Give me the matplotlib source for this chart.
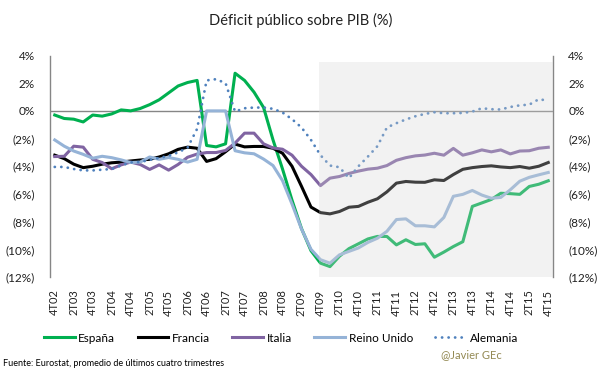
import numpy as np
import matplotlib
matplotlib.use('Agg')
import matplotlib.pyplot as plt
from matplotlib.ticker import FixedLocator, FuncFormatter

plt.rcParams['font.family'] = ['Lato', 'DejaVu Sans']

# Trimestres 4T02 .. 4T15 (53 puntos)
trimestres = []
for anio in range(2, 16):
    for q in range(1, 5):
        if anio == 2 and q < 4:
            continue
        trimestres.append('%dT%02d' % (q, anio))
etiquetas = trimestres[::2]

espana = [-0.3, -0.55, -0.6, -0.8, -0.3, -0.38, -0.22, 0.07, 0.0, 0.17, 0.45, 0.8,
          1.3, 1.8, 2.05, 2.2, -2.5, -2.6, -2.38, 2.72, 2.2, 1.35, 0.25, -2.1,
          -4.2, -6.45, -8.5, -10.1, -11.0, -11.25, -10.5, -9.95, -9.6, -9.25, -9.07, -9.07,
          -9.68, -9.31, -9.65, -9.6, -10.57, -10.2, -9.8, -9.45, -6.9, -6.65, -6.4, -5.95,
          -5.98, -6.03, -5.46, -5.3, -5.05]
francia = [-3.2, -3.45, -3.85, -4.1, -4.0, -3.85, -3.75, -3.7, -3.62, -3.55, -3.5, -3.33,
           -3.1, -2.78, -2.62, -2.7, -3.65, -3.45, -2.95, -2.4, -2.6, -2.57, -2.57, -2.7,
           -3.06, -4.0, -5.45, -6.95, -7.35, -7.44, -7.27, -6.96, -6.9, -6.6, -6.35, -5.85,
           -5.22, -5.1, -5.15, -5.16, -4.98, -5.03, -4.6, -4.22, -4.1, -4.02, -3.97, -4.05,
           -4.1, -4.02, -4.14, -4.0, -3.73]
italia = [-3.3, -3.28, -2.55, -2.62, -3.5, -3.73, -4.18, -3.9, -3.7, -3.87, -4.23, -3.9,
          -4.28, -3.87, -3.35, -3.12, -3.01, -3.01, -2.86, -2.33, -1.61, -1.61, -2.38, -2.68,
          -2.77, -3.2, -4.0, -4.6, -5.4, -4.86, -4.74, -4.52, -4.35, -4.21, -4.14, -3.95,
          -3.57, -3.38, -3.25, -3.19, -3.06, -3.2, -2.71, -3.2, -3.03, -2.82, -2.96, -2.82,
          -3.11, -2.9, -2.88, -2.7, -2.63]
reino_unido = [-2.1, -2.55, -2.9, -3.14, -3.42, -3.28, -3.38, -3.54, -3.73, -3.7, -3.33, -3.5,
               -3.37, -3.5, -3.7, -3.5, 0.0, 0.0, 0.0, -2.88, -3.03, -3.1, -3.48, -3.95,
               -5.04, -6.73, -8.53, -10.0, -10.75, -11.0, -10.4, -10.15, -9.9, -9.5, -9.2, -8.7,
               -7.85, -7.8, -8.3, -8.3, -8.38, -7.7, -6.17, -6.03, -5.75, -6.08, -6.31, -6.25,
               -5.7, -5.08, -4.8, -4.62, -4.45]
alemania = [-4.05, -4.05, -4.2, -4.3, -4.3, -4.25, -4.2, -3.95, -3.72, -3.7, -3.54, -3.4,
            -3.25, -3.0, -2.65, -1.3, 2.2, 2.29, 2.0, -0.05, 0.19, 0.24, 0.24, 0.15,
            -0.12, -0.6, -1.2, -2.1, -3.2, -3.95, -4.07, -4.86, -4.0, -3.3, -2.55, -1.2,
            -0.89, -0.62, -0.39, -0.22, -0.1, -0.17, -0.17, -0.15, -0.05, 0.19, 0.12, 0.1,
            0.28, 0.4, 0.45, 0.84, 0.74]

x = np.arange(len(trimestres))

fig = plt.figure(figsize=(6.05, 3.78), dpi=100)
ax = fig.add_axes([50 / 605, 1 - 277 / 378, 503 / 605, 221.5 / 378])

lw = 2.2
ax.plot(x, espana, color='#00B050', lw=lw, label='España', zorder=3)
ax.plot(x, francia, color='#000000', lw=lw, label='Francia', zorder=3)
ax.plot(x, italia, color='#8064A2', lw=lw, label='Italia', zorder=3)
ax.plot(x, reino_unido, color='#95B3D7', lw=lw, label='Reino Unido', zorder=3)
ax.plot(x, alemania, color='#4F81BD', lw=2.0, linestyle=(0, (0.05, 2.3)),
        dash_capstyle='round', label='Alemania', zorder=3)

# zona sombreada (desde 4T09) dibujada encima de las lineas
ax.axvspan(27.85, 52.5, ymin=0, ymax=(3.5 + 12) / 16, color='#d5d5d5', alpha=0.3,
           lw=0, zorder=4)

ax.axhline(0, color='#868686', lw=1.0, zorder=2)

ax.set_xlim(-0.5, 52.5)
ax.set_ylim(-12, 4)

ax.xaxis.set_major_locator(FixedLocator(x[::2]))
ax.set_xticklabels(etiquetas, rotation=90, fontsize=8)
ax.set_yticks(np.arange(-12, 5, 2))
ax.yaxis.set_major_formatter(FuncFormatter(
    lambda v, p: '%d%%' % v if v >= 0 else '(%d%%)' % -v))

ax.tick_params(axis='x', length=0, pad=9, colors='#404040', labelcolor='#202020')
ax.tick_params(axis='y', length=0, labelleft=True, labelright=True, pad=11,
               labelsize=8.5, labelcolor='#202020')

for s in ['top', 'bottom']:
    ax.spines[s].set_visible(False)
for s in ['left', 'right']:
    ax.spines[s].set_color('#868686')
    ax.spines[s].set_linewidth(1.0)

fig.text(0.497, 0.945, 'Déficit público sobre PIB (%)', ha='center', va='center',
         fontsize=10.5, color='#202020')

ax.legend(loc='center', bbox_to_anchor=(281 / 605, 1 - 338 / 378),
          bbox_transform=fig.transFigure, ncol=5, frameon=False, fontsize=8.5,
          handlelength=2.6, handletextpad=0.3, columnspacing=1.9,
          borderpad=0, borderaxespad=0)

fig.text(502 / 605, 1 - 355 / 378, '@Javier GEc', ha='right', va='center',
         fontsize=8, color='#948A54')
fig.text(3 / 605, 1 - 364 / 378, 'Fuente: Eurostat, promedio de últimos cuatro trimestres',
         ha='left', va='center', fontsize=6.5, color='#000000')

fig.savefig('out.png', dpi=100)
